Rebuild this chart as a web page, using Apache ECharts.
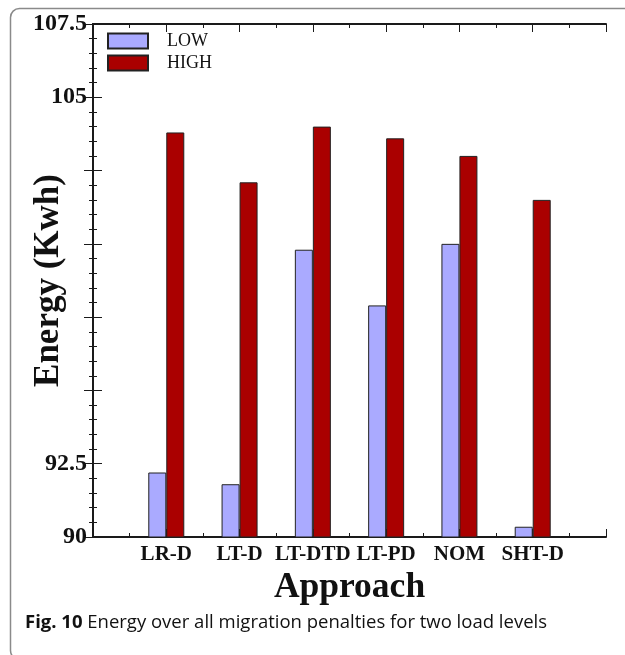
<!DOCTYPE html>
<html>
<head>
<meta charset="utf-8">
<script src="https://cdn.jsdelivr.net/npm/echarts@6/dist/echarts.min.js"></script>
<style>
html,body{margin:0;padding:0;background:#fff;}
#chart{width:625px;height:655px;}
</style>
</head>
<body>
<div id="chart"></div>
<script>
const categories = ['LR-D', 'LT-D', 'LT-DTD', 'LT-PD', 'NOM', 'SHT-D'];
const lowValues  = [92.2, 91.8, 99.8, 97.9, 100.0, 90.35];
const highValues = [103.8, 102.1, 104.0, 103.6, 103.0, 101.5];
const yTickLabels = ['90', '92.5', '105', '107.5'];
const seriesNames = ['LOW', 'HIGH'];
const caption = ['Fig. 10', ' Energy over all migration penalties for two load levels'];

const toPoints = vals => vals.map((v, i) => [i + 1, v]);
const serif = 'Liberation Serif';
const axisColor = '#1a1a1a';

const chart = echarts.init(document.getElementById('chart'), null, {renderer: 'canvas'});
const commonX = {
  type: 'value', min: 0, max: 7, interval: 1,
  axisLine: {show: true, lineStyle: {color: axisColor, width: 2}},
  axisTick: {show: true, inside: true, length: 8, lineStyle: {color: axisColor, width: 1}},
  minorTick: {show: true, splitNumber: 2, length: 4, lineStyle: {color: axisColor, width: 1}},
  splitLine: {show: false}, minorSplitLine: {show: false}
};
const commonY = {
  type: 'value', min: 90, max: 107.5, interval: 2.5,
  axisLine: {show: true, lineStyle: {color: axisColor, width: 2}},
  axisTick: {show: true, inside: true, length: 9, lineStyle: {color: axisColor, width: 1}},
  minorTick: {show: true, splitNumber: 5, length: 4, lineStyle: {color: axisColor, width: 1}},
  splitLine: {show: false}, minorSplitLine: {show: false}
};

chart.setOption({
  animation: false,
  backgroundColor: '#fff',
  grid: {left: 93, right: 19, top: 24, bottom: 118, containLabel: false, outerBoundsMode: 'none'},
  legend: {
    orient: 'vertical', left: 107, top: 32, padding: 0,
    itemWidth: 40, itemHeight: 15, itemGap: 4,
    icon: 'rect',
    textStyle: {fontFamily: serif, fontSize: 18, color: '#111', padding: [0, 0, 0, 14]},
    data: seriesNames
  },
  xAxis: [
    Object.assign({}, commonX, {
      position: 'bottom',
      name: 'Approach', nameLocation: 'middle', nameGap: 30,
      nameTextStyle: {fontFamily: serif, fontWeight: 'bold', fontSize: 35.5, color: '#111'},
      axisLabel: {
        show: true, margin: 7,
        fontFamily: serif, fontWeight: 'bold', fontSize: 21, color: '#111',
        formatter: v => categories[v - 1] || ''
      }
    }),
    Object.assign({}, commonX, {position: 'top', axisLabel: {show: false}})
  ],
  yAxis: [
    Object.assign({}, commonY, {
      position: 'left',
      name: 'Energy (Kwh)', nameLocation: 'middle', nameGap: 27, nameRotate: 90,
      nameMoveOverlap: false,
      nameTextStyle: {fontFamily: serif, fontWeight: 'bold', fontSize: 35, color: '#111'},
      axisLabel: {
        show: true, margin: 6,
        fontFamily: serif, fontWeight: 'bold', fontSize: 24, color: '#111',
        formatter: v => yTickLabels.indexOf(String(v)) >= 0 ? String(v) : ''
      }
    }),
    Object.assign({}, commonY, {position: 'right', axisLabel: {show: false}})
  ],
  series: [
    {
      name: seriesNames[0], type: 'bar', xAxisIndex: 0, yAxisIndex: 0,
      barWidth: 18, barGap: '0%',
      itemStyle: {color: '#aaaaff', borderColor: '#222', borderWidth: 1},
      data: toPoints(lowValues)
    },
    {
      name: seriesNames[1], type: 'bar', xAxisIndex: 0, yAxisIndex: 0,
      barWidth: 18, barGap: '0%',
      itemStyle: {color: '#aa0000', borderColor: '#222', borderWidth: 1},
      data: toPoints(highValues)
    }
  ],
  graphic: [
    {
      type: 'rect', left: 8, top: 6, silent: true,
      shape: {x: 0, y: 0, width: 700, height: 651, r: 9},
      style: {fill: 'none', stroke: '#8a8a8a', lineWidth: 1.5}
    },
    {
      type: 'text', left: 25, top: 613,
      style: {
        text: '{b|' + caption[0] + '}{n|' + caption[1] + '}',
        rich: {
          b: {fontFamily: 'Open Sans', fontWeight: 'bold', fontSize: 18.5, fill: '#111'},
          n: {fontFamily: 'Open Sans', fontSize: 18.5, fill: '#111'}
        }
      }
    }
  ]
});
</script>
</body>
</html>
